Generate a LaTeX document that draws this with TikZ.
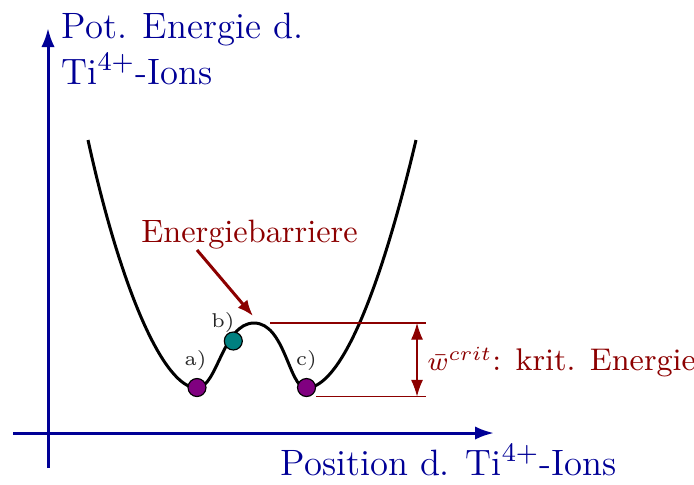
\documentclass[tikz,border=0pt]{standalone}
\usetikzlibrary{arrows.meta}
\definecolor{axblue}{RGB}{0,0,150}
\definecolor{dred}{RGB}{140,0,0}
\definecolor{dpurple}{RGB}{128,0,128}
\definecolor{dteal}{RGB}{0,128,128}
\begin{document}
\begin{tikzpicture}[x=0.3pt,y=-0.3pt,
  axis/.style={draw=axblue,line width=0.9pt,-{Latex[length=5.7pt,width=4pt]}},
  axlabel/.style={text=axblue,font=\fontsize{11}{13}\selectfont,inner sep=0pt,anchor=base west},
  ball/.style={circle,draw=black,line width=0.35pt,minimum size=5.4pt,inner sep=0pt},
  small/.style={font=\fontsize{6}{7}\selectfont,inner sep=0pt,text=black!85},
  redlbl/.style={text=dred,font=\fontsize{9.7}{11}\selectfont,inner sep=0pt},
  thinred/.style={draw=dred,line width=0.35pt},
  dimarrow/.style={draw=dred,line width=0.35pt,{Latex[length=5pt,width=3.6pt]}-{Latex[length=5pt,width=3.6pt]}},
  ptr/.style={draw=dred,line width=0.9pt,-{Latex[length=4.8pt,width=3.8pt]}}]
\useasboundingbox (0,0) rectangle (694,484);
% axes
\coordinate (ybot) at (48,468);
\coordinate (ytop) at (48,28);
\coordinate (xl) at (13,433);
\coordinate (xr) at (494,433);
\draw[axis] (ybot) -- (ytop);
\draw[axis] (xl) -- (xr);
\node[axlabel] (ylab1) at (61,38) {Pot. Energie d.};
\node[axlabel] (ylab2) at (61,84) {Ti$^{4+}$-Ions};
\node[axlabel] (xlab) at (280,475) {Position d. Ti$^{4+}$-Ions};
% potential curve
\draw[line width=0.9pt,black]
  (88,140) .. controls (122,295) and (165,388) .. (197,388)
  .. controls (217,388) and (223,323) .. (254,323)
  .. controls (285,323) and (289,388) .. (306,388)
  .. controls (339,388) and (378,300) .. (416,140);
% energy levels
\coordinate (topl) at (270,323);
\coordinate (topr) at (426,323);
\coordinate (botl) at (316,396.5);
\coordinate (botr) at (426,396.5);
\coordinate (dtop) at (417,323);
\coordinate (dbot) at (417,396.5);
\draw[thinred] (topl) -- (topr);
\draw[thinred] (botl) -- (botr);
\draw[dimarrow] (dtop) -- (dbot);
\node[redlbl,font=\fontsize{9.4}{11}\selectfont,anchor=base west] (wlab) at (427,370) {{\fontsize{8.2}{10}\selectfont$\bar{w}^{crit}$}: krit. Energie};
% barrier label
\node[redlbl,anchor=base] (barr) at (249.5,242) {Energiebarriere};
\coordinate (ptrs) at (197,250);
\coordinate (ptre) at (253,316);
\draw[ptr] (ptrs) -- (ptre);
% balls
\node[ball,fill=dpurple] (ba) at (197,387.5) {};
\node[ball,fill=dteal] (bb) at (233.3,341) {};
\node[ball,fill=dpurple] (bc) at (306.5,387.5) {};
\node[small] (la) at (195.5,360) {a)};
\node[small] (lb) at (223,322) {b)};
\node[small] (lc) at (306.5,360) {c)};
\end{tikzpicture}
\end{document}
